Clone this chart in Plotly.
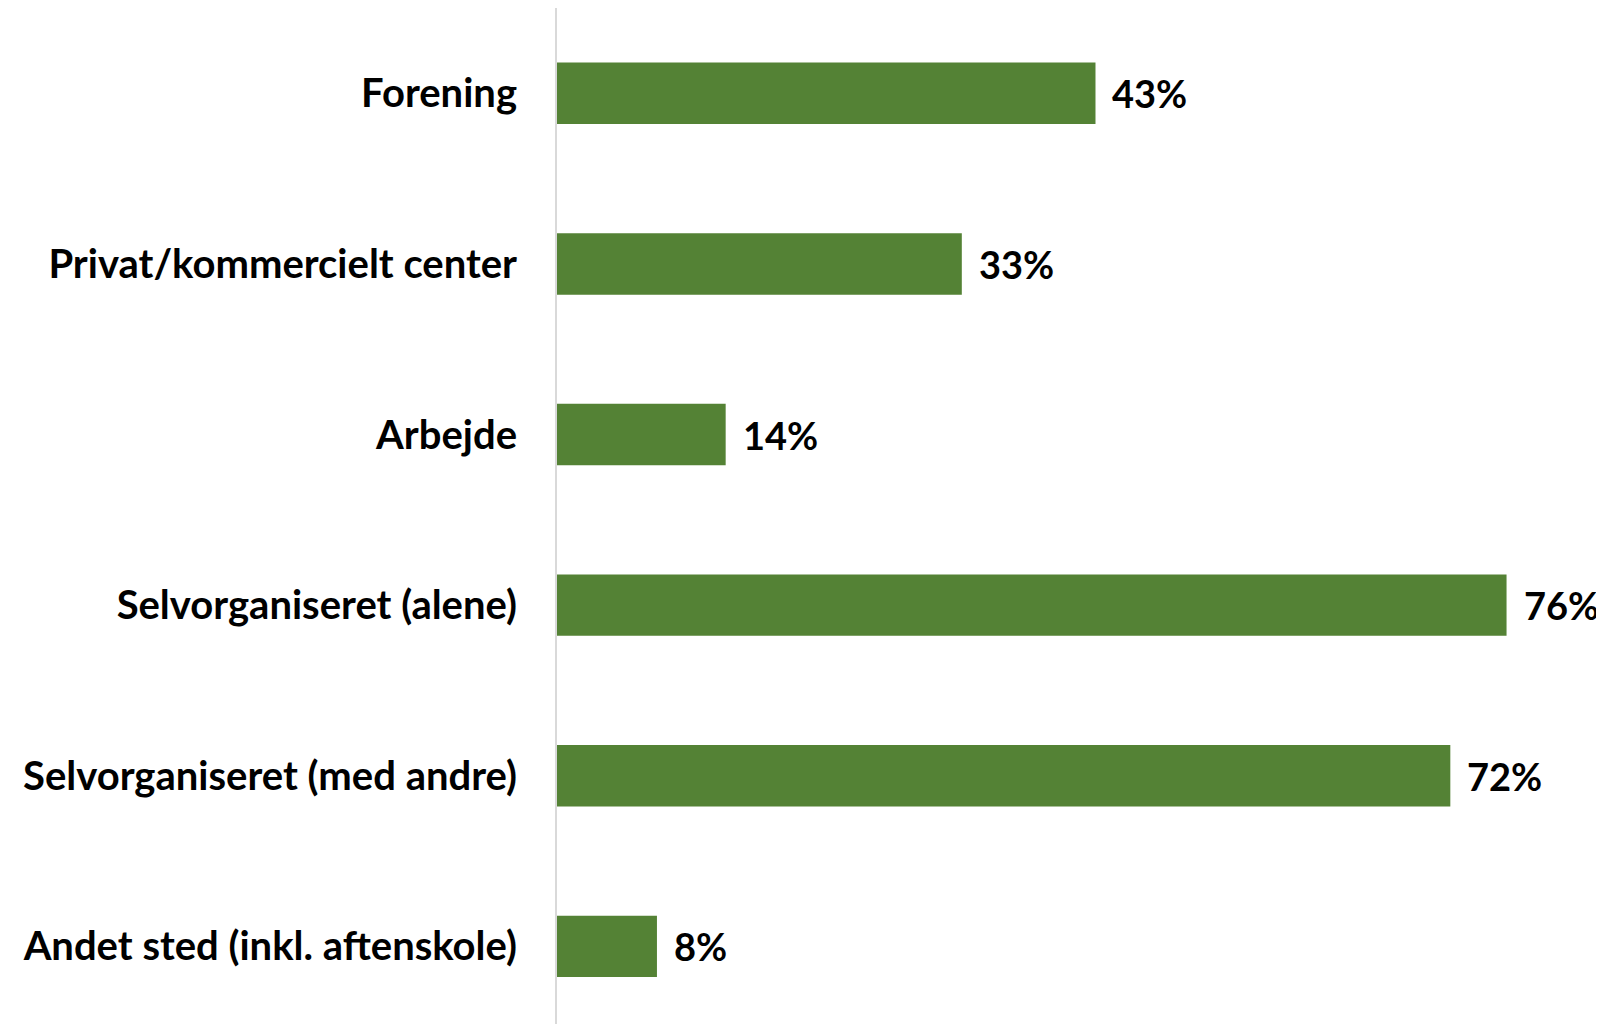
import plotly.graph_objects as go

categories = ["Forening", "Privat/kommercielt center", "Arbejde",
              "Selvorganiseret (alene)", "Selvorganiseret (med andre)",
              "Andet sted (inkl. aftenskole)"]
values = [43.1, 32.4, 13.5, 76.0, 71.5, 8.0]
value_labels = ["43%", "33%", "14%", "76%", "72%", "8%"]

BAR = "#548235"
FONT = "Lato"

fig = go.Figure(go.Bar(
    x=values, y=categories, orientation="h",
    marker=dict(color=BAR, line=dict(width=0)),
    width=0.36, hoverinfo="skip",
))

for v, c, t in zip(values, categories, value_labels):
    fig.add_annotation(x=v, y=c, text=t, showarrow=False, xanchor="left",
                       xshift=15, yshift=0,
                       font=dict(family=FONT, size=38, color="black", weight="bold"))

# page has an 8px body margin, so the figure is 8px smaller than the window
fig.update_layout(
    width=1596, height=1016,
    margin=dict(l=549, r=0, t=0, b=0),
    plot_bgcolor="white", paper_bgcolor="white",
    showlegend=False,
    xaxis=dict(range=[0, 83.8], visible=False, fixedrange=True),
    yaxis=dict(categoryorder="array", categoryarray=categories,
               range=[5.455, -0.5], showline=True, linecolor="#d9d9d9",
               linewidth=2, showgrid=False, ticks="", ticklabelstandoff=30,
               tickfont=dict(family=FONT, size=40, color="black", weight="bold")),
)

fig.write_html("out.html")
